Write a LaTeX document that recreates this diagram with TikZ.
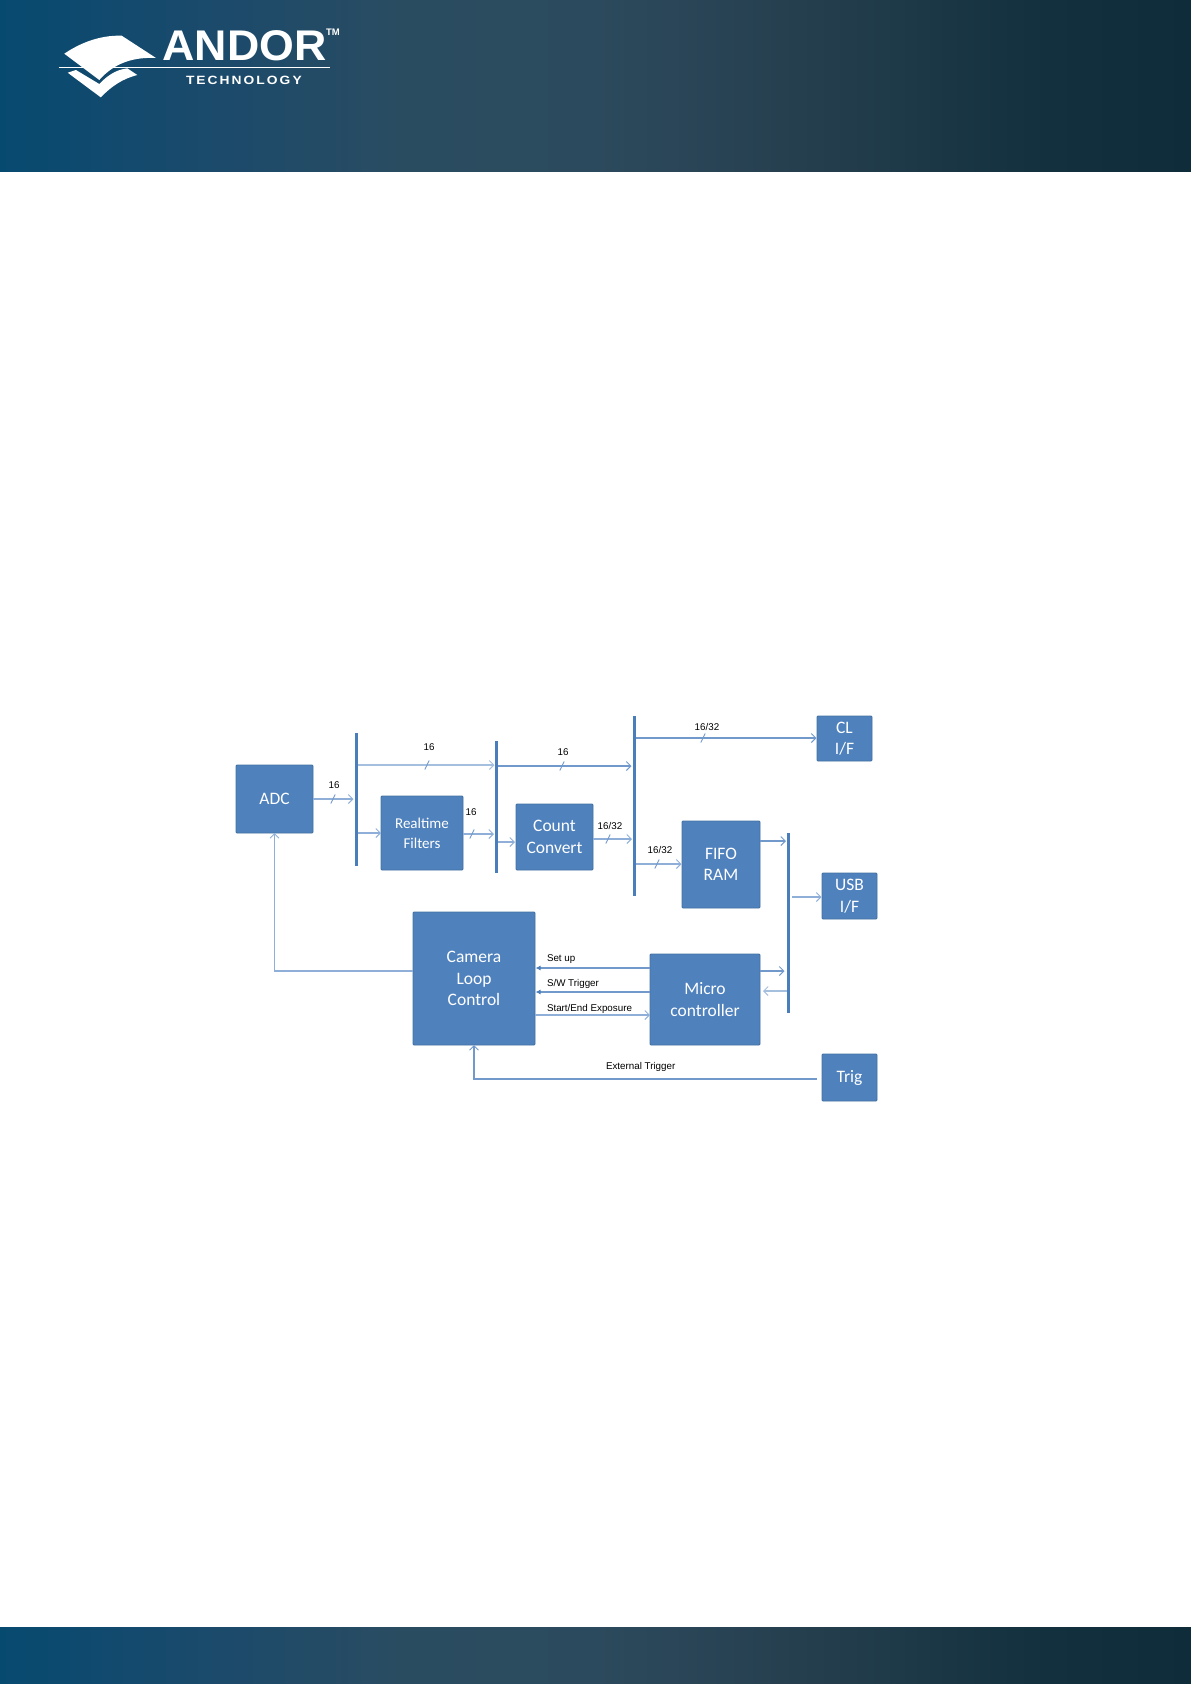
\documentclass[tikz,border=0pt]{standalone}
\usepackage{fontspec}
\setmainfont{Liberation Sans}
\newfontfamily\boxfont{Carlito}
\usetikzlibrary{arrows.meta}
\definecolor{barA}{HTML}{074A70}
\definecolor{barB}{HTML}{1A4A6C}
\definecolor{barC}{HTML}{2A4C61}
\definecolor{barD}{HTML}{2C4A5D}
\definecolor{barE}{HTML}{263F4F}
\definecolor{barF}{HTML}{12303E}
\definecolor{barG}{HTML}{0E2C39}
\pgfdeclarehorizontalshading{andorbar}{100bp}{color(0bp)=(barA);color(25bp)=(barA);color(33.5bp)=(barB);color(42bp)=(barC);color(50bp)=(barD);color(58.5bp)=(barE);color(69bp)=(barF);color(75bp)=(barG);color(100bp)=(barG)}
\definecolor{boxfill}{HTML}{4F81BD}
\definecolor{boxedge}{HTML}{41709F}
\definecolor{busblue}{HTML}{4A7EBB}
\definecolor{wire}{HTML}{7299CB}
\definecolor{wiremid}{HTML}{8FAFD8}
\definecolor{wirepale}{HTML}{A5BFDE}
\tikzset{
  box/.style={rectangle,rounded corners=1pt,fill=boxfill,draw=boxedge,line width=0.8pt,text=white,align=center,inner sep=0pt,outer sep=0pt,font=\boxfont\fontsize{17.5}{21.5}\selectfont},
  busbar/.style={rectangle,fill=busblue,minimum width=3pt,inner sep=0pt,outer sep=0pt},
  arr/.style={draw=wire,line width=1.3pt,-{Straight Barb[length=4.5pt,width=9pt,line width=1pt]}},
  midarr/.style={arr,draw=wiremid},
  palearr/.style={arr,draw=wirepale},
  filledarr/.style={draw=wire,line width=1.3pt,-{Latex[length=5pt,width=5pt,color=busblue]}},
  tick/.style={draw=wire,line width=0.9pt},
  lbl/.style={inner sep=0pt,outer sep=0pt,text=black,font=\fontsize{9.8}{12}\selectfont},
  logotxt/.style={inner sep=0pt,outer sep=0pt,text=white,font=\bfseries}
}
\begin{document}
\begin{tikzpicture}[x=1pt,y=-1pt]
\useasboundingbox (0,0) rectangle (1191,1684);
% bands
\path[shading=andorbar] (0,0) rectangle (1191,171);
\path[shading=andorbar] (0,1627) rectangle (1191,1684);
% logo
\fill[white] (64.3,53.7) .. controls (80,43) and (100,35) .. (121.7,35.7) -- (156,58) .. controls (135,57) and (115,62) .. (99.3,80) -- cycle;
\fill[white] (76,70) -- (67.7,72.7) -- (100.7,97.3) .. controls (112,86) and (122,79) .. (137.3,75) -- (127.3,68.3) .. controls (115,70) and (107,76) .. (99.3,84) -- cycle;
\draw[white,line width=1.3pt] (58.5,67.3) -- (330,67.3);
\node[logotxt,anchor=base west,yscale=0.96] (andorname) at (162.5,60.5) {\fontsize{44.7}{50}\selectfont ANDOR};
\node[logotxt,anchor=base west] (andortm) at (326,35) {\fontsize{9.5}{10}\selectfont TM};
\node[logotxt,anchor=base west] (andortech) at (186,84) {\fontsize{12}{14}\selectfont\addfontfeature{FakeStretch=1.15,LetterSpace=17}TECHNOLOGY};
% blocks
\node[box,minimum width=77pt,minimum height=68pt] (adc) at (274.5,799) {\raisebox{-1.5pt}{ADC}};
\node[box,minimum width=82pt,minimum height=74pt,font=\boxfont\fontsize{15}{20}\selectfont] (filt) at (422,833) {Realtime\\Filters};
\node[box,minimum width=77pt,minimum height=66pt] (count) at (554.5,837) {Count\\Convert};
\node[box,minimum width=55pt,minimum height=45pt] (cl) at (844.5,738.5) {CL\\I/F};
\node[box,minimum width=78pt,minimum height=87pt] (fifo) at (721,864.5) {FIFO\\RAM};
\node[box,minimum width=55pt,minimum height=46pt] (usb) at (849.5,896) {USB\\I/F};
\node[box,minimum width=122pt,minimum height=133pt] (cam) at (474,978.5) {Camera\\Loop\\Control};
\node[box,minimum width=110pt,minimum height=91pt] (micro) at (705,999.5) {Micro\\controller};
\node[box,minimum width=55pt,minimum height=47pt] (trig) at (849.5,1077.5) {Trig};
% bus bars
\node[busbar,minimum height=133pt] (busa) at (356,799.5) {};
\node[busbar,minimum height=132pt] (busb) at (496,807) {};
\node[busbar,minimum height=180pt] (busc) at (634,806) {};
\node[busbar,minimum height=180pt] (busd) at (788,923) {};
% row heights
\foreach \r in {738,765,766,799,833,834,839,842,841,864,897,968,971,991,992,1015,1079}
  \coordinate (r\r) at (0,\r);
% connectors
\draw[midarr,shorten >=1pt] (adc.east |- r799) -- (busa.west |- r799);
\draw[midarr] (busa.east |- r833) -- (filt.west |- r833);
\draw[palearr] (busa.east |- r765) -- (busb.west |- r765);
\draw[arr,shorten >=1pt] (busb.east |- r766) -- (busc.west |- r766);
\draw[midarr,shorten >=0.5pt] (filt.east |- r834) -- (busb.west |- r834);
\draw[midarr,shorten >=1pt] (busb.east |- r842) -- (count.west |- r842);
\draw[midarr,shorten >=0.5pt] (count.east |- r839) -- (busc.west |- r839);
\draw[arr,shorten >=0.5pt] (busc.east |- r738) -- (cl.west |- r738);
\draw[midarr,shorten >=0.5pt] (busc.east |- r864) -- (fifo.west |- r864);
\draw[arr,shorten >=0.5pt] (fifo.east |- r841) -- (busd.west |- r841);
\draw[midarr,shorten <=2pt,shorten >=0.5pt] (busd.east |- r897) -- (usb.west |- r897);
\draw[arr,shorten >=2pt] (micro.east |- r971) -- (busd.west |- r971);
\draw[palearr,shorten >=3pt] (busd.west |- r991) -- (micro.east |- r991);
\draw[filledarr,shorten >=0.5pt] (micro.west |- r968) -- (cam.east |- r968);
\draw[filledarr,shorten >=0.5pt] (micro.west |- r992) -- (cam.east |- r992);
\draw[midarr] (cam.east |- r1015) -- (micro.west |- r1015);
\draw[midarr] (cam.west |- r971) -| (adc.south);
\draw[arr,shorten <=5pt] (trig.west |- r1079) -| (cam.south);
% bus-width ticks
\foreach \n/\x/\y in {ta/333/799,tb/427/765,tc/562/766,td/472/834,te/608/839,tf/703/738,tg/657/864}{
  \coordinate (\n) at (\x,\y);
  \draw[tick] (\n)+(-2.2,4.5) -- +(2.2,-4.5);
}
% labels
\node[lbl] (l1) at (334,785) {16};
\node[lbl] (l2) at (429,747) {16};
\node[lbl] (l3) at (563,752) {16};
\node[lbl] (l4) at (471,812) {16};
\node[lbl] (l5) at (610,826) {16/32};
\node[lbl] (l6) at (707,727) {16/32};
\node[lbl] (l7) at (660,850) {16/32};
\node[lbl,anchor=base west] (l8) at (547,961.5) {Set up};
\node[lbl,anchor=base west] (l9) at (547,986.5) {S/W Trigger};
\node[lbl,anchor=base west] (l10) at (547,1011) {Start/End Exposure};
\node[lbl,anchor=base west] (l11) at (606,1069) {External Trigger};
\end{tikzpicture}
\end{document}
